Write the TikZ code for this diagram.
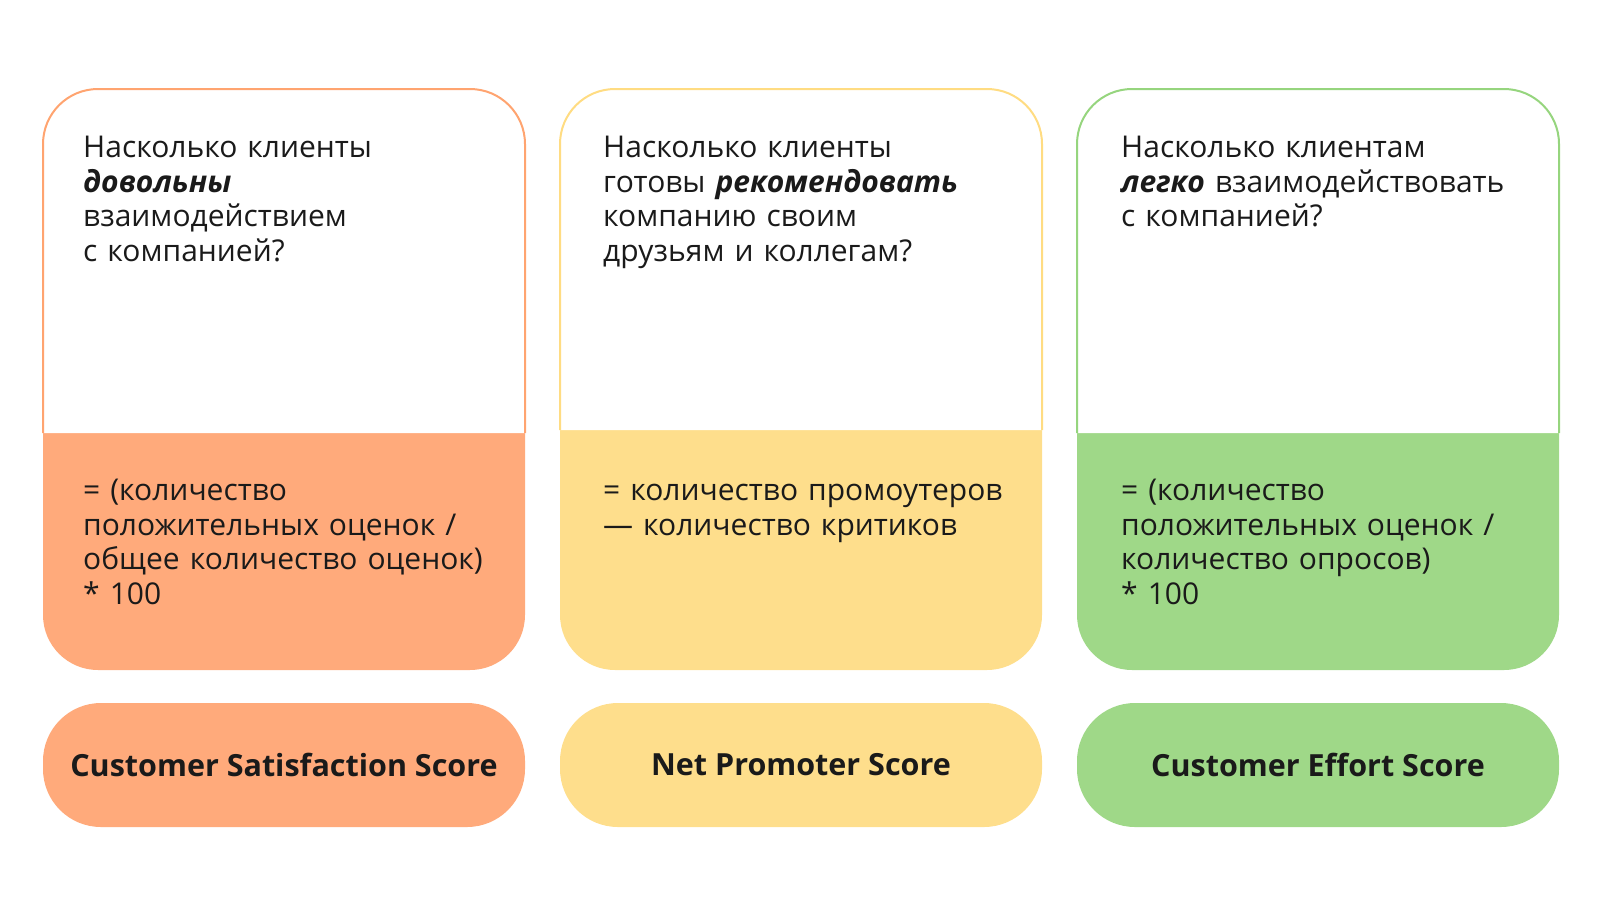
\documentclass[tikz,border=0pt]{standalone}
\usepackage{fontspec}
\setmainfont{Open Sans}
\usetikzlibrary{positioning}
\definecolor{ink}{HTML}{1A1A1A}
\definecolor{csatfill}{HTML}{FFAA7B}
\definecolor{csatline}{HTML}{FFA470}
\definecolor{npsfill}{HTML}{FEDE8C}
\definecolor{npsline}{HTML}{FFDC82}
\definecolor{cesfill}{HTML}{9FD888}
\definecolor{cesline}{HTML}{96D57E}
\tikzstyle{cardtext} = [anchor=north west, inner sep=0, align=left, text width=460, text=ink,
                        font=\fontsize{30}{34.6}\selectfont]
\tikzstyle{scorename} = [rounded corners=58, minimum width=482, minimum height=124, inner sep=0,
                         text=ink, font=\bfseries\fontsize{30.5}{36}\selectfont]

\begin{document}
\begin{tikzpicture}[x=1pt, y=-1pt]
				\useasboundingbox (0, 0) rectangle (1600, 900);

				% satisfaction
				\fill[csatfill, rounded corners=55] (43, 89) rectangle (525, 670);
				\filldraw[fill=white, draw=csatline, line width=2, rounded corners=55]
					(43, 433) -- (43, 89) -- (525, 89) -- (525, 433);
				\node (CsatQuestion) [cardtext] at (83, 133)
					{\strut Насколько клиенты\\\textbf{\textit{довольны}}\\взаимодействием\\с компанией?};
				\node (CsatFormula) [cardtext] at (83, 476)
					{\strut = (количество\\положительных оценок /\\общее количество оценок)\\{*} 100};
				\node (Csat) [scorename, fill=csatfill] at (284, 765) {Customer Satisfaction Score};

				% promoter
				\fill[npsfill, rounded corners=55] (560, 89) rectangle (1042, 670);
				\filldraw[fill=white, draw=npsline, line width=2, rounded corners=55]
					(560, 430) -- (560, 89) -- (1042, 89) -- (1042, 430);
				\node (NpsQuestion) [cardtext] at (603, 133)
					{\strut Насколько клиенты\\готовы \textbf{\textit{рекомендовать}}\\компанию своим\\друзьям и коллегам?};
				\node (NpsFormula) [cardtext] at (603, 476)
					{\strut = количество промоутеров\\— количество критиков};
				\node (Nps) [scorename, fill=npsfill] at (801, 765) {Net Promoter Score};

				% effort
				\fill[cesfill, rounded corners=55] (1077, 89) rectangle (1559, 670);
				\filldraw[fill=white, draw=cesline, line width=2, rounded corners=55]
					(1077, 433) -- (1077, 89) -- (1559, 89) -- (1559, 433);
				\node (CesQuestion) [cardtext] at (1121, 133)
					{\strut Насколько клиентам\\\textbf{\textit{легко}} взаимодействовать\\с компанией?};
				\node (CesFormula) [cardtext] at (1121, 476)
					{\strut = (количество\\положительных оценок /\\количество опросов)\\{*} 100};
				\node (Ces) [scorename, fill=cesfill] at (1318, 765) {Customer Effort Score};
			\end{tikzpicture}
\end{document}
